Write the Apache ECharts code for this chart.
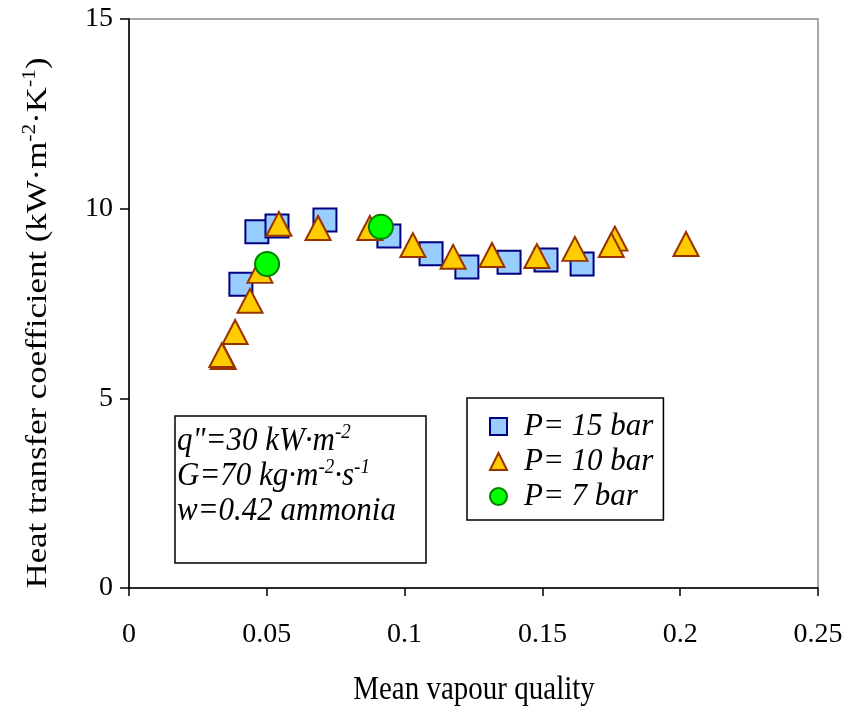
<!DOCTYPE html>
<html>
<head>
<meta charset="utf-8">
<script src="https://cdn.jsdelivr.net/npm/echarts@6/dist/echarts.min.js"></script>
<style>
html,body{margin:0;padding:0;background:#fff;}
#chart{width:849px;height:715px;}
</style>
</head>
<body>
<div id="chart"></div>
<script>
// ---- data ----
var xTickLabels = ['0', '0.05', '0.1', '0.15', '0.2', '0.25'];
var yTickLabels = ['0', '5', '10', '15'];
var seriesNames = ['P= 15 bar', 'P= 10 bar', 'P= 7 bar'];

var p15x = [0.0406, 0.0464, 0.0537, 0.0711, 0.0943, 0.1096, 0.1226, 0.1379, 0.1513, 0.1644];
var p15y = [8.01, 9.39, 9.54, 9.70, 9.28, 8.81, 8.46, 8.59, 8.65, 8.54];

var p10x = [0.0342, 0.0337, 0.0385, 0.0439, 0.0475, 0.0544, 0.0686, 0.0874, 0.1030, 0.1176, 0.1317, 0.1480, 0.1618, 0.1763, 0.1750, 0.2021];
var p10y = [6.09, 6.14, 6.75, 7.57, 8.36, 9.60, 9.49, 9.49, 9.04, 8.73, 8.78, 8.75, 8.94, 9.21, 9.04, 9.07];

var p7x = [0.0501, 0.0914];
var p7y = [8.54, 9.52];

function pairs(xs, ys) { return xs.map(function (x, i) { return [x, ys[i]]; }); }

var FONT = 'Liberation Serif';
var chart = echarts.init(document.getElementById('chart'), null, {renderer: 'canvas'});

function noteRich(size, supSize) {
  return {
    n: {fontFamily: FONT, fontStyle: 'italic', fontSize: size, lineHeight: size + 4, fill: '#000'},
    s: {fontFamily: FONT, fontStyle: 'italic', fontSize: supSize, lineHeight: size + 4, verticalAlign: 'top', fill: '#000'}
  };
}

var option = {
  backgroundColor: '#ffffff',
  animation: false,
  grid: {left: 129, right: 31, top: 19, bottom: 127, show: true, borderColor: '#8c8c8c', borderWidth: 1.5, backgroundColor: 'transparent'},
  xAxis: {
    type: 'value', min: 0, max: 0.25, interval: 0.05,
    axisLine: {show: true, onZero: false, lineStyle: {color: '#000', width: 1.5}},
    axisTick: {show: true, inside: false, length: 8, lineStyle: {color: '#000', width: 1.5}},
    splitLine: {show: false},
    axisLabel: {margin: 33, color: '#000', fontFamily: FONT, fontSize: 28,
      formatter: function (v, i) { return xTickLabels[i]; }}
  },
  yAxis: {
    type: 'value', min: 0, max: 15, interval: 5,
    axisLine: {show: true, onZero: false, lineStyle: {color: '#000', width: 1.5}},
    axisTick: {show: true, inside: false, length: 9, lineStyle: {color: '#000', width: 1.5}},
    splitLine: {show: false},
    axisLabel: {margin: 16, color: '#000', fontFamily: FONT, fontSize: 28,
      formatter: function (v, i) { return yTickLabels[i]; }}
  },
  legend: {
    orient: 'vertical', left: 467, top: 398,
    padding: [13, 10, 8, 22],
    itemWidth: 17, itemHeight: 17, itemGap: 4,
    backgroundColor: '#fff',
    borderColor: '#000', borderWidth: 1.5, borderRadius: 0,
    textStyle: {fontFamily: FONT, fontStyle: 'italic', fontSize: 31, color: '#000', lineHeight: 31, padding: [0, 0, 0, 12]},
    data: seriesNames
  },
  series: [
    {name: seriesNames[0], type: 'scatter', symbol: 'rect', symbolSize: 23, z: 2,
      itemStyle: {color: '#99CCFF', borderColor: '#000080', borderWidth: 2, opacity: 1},
      data: pairs(p15x, p15y)},
    {name: seriesNames[1], type: 'scatter', symbol: 'triangle', symbolSize: [25, 24], z: 3,
      itemStyle: {color: '#FFCC00', borderColor: '#993300', borderWidth: 2, opacity: 1},
      data: pairs(p10x, p10y)},
    {name: seriesNames[2], type: 'scatter', symbol: 'circle', symbolSize: 24, z: 4,
      itemStyle: {color: '#00FF00', borderColor: '#008000', borderWidth: 2, opacity: 1},
      data: pairs(p7x, p7y)}
  ],
  graphic: [
    {type: 'text', x: 38, y: 323, rotation: Math.PI / 2, scaleX: 1.2, scaleY: 1,
      style: {
        text: '{n|Heat transfer coefficient (kW·m}{s|-2}{n|·K}{s|-1}{n|)}',
        align: 'center', verticalAlign: 'middle', fill: '#000',
        rich: {
          n: {fontFamily: FONT, fontSize: 29, lineHeight: 33, fill: '#000'},
          s: {fontFamily: FONT, fontSize: 18, lineHeight: 33, verticalAlign: 'top', fill: '#000'}
        }
      }},
    {type: 'text', x: 474, y: 690, scaleY: 1.15,
      style: {text: 'Mean vapour quality', font: '29px "Liberation Serif"', fill: '#000', align: 'center', verticalAlign: 'middle'}},
    {type: 'rect', shape: {x: 175, y: 416, width: 251, height: 147},
      style: {fill: '#fff', stroke: '#000', lineWidth: 1.5}, z: 10},
    {type: 'text', x: 177, y: 441, z: 11, scaleY: 1.1,
      style: {text: '{n|q"=30 kW·m}{s|-2}', align: 'left', verticalAlign: 'middle', fill: '#000', rich: noteRich(31, 19)}},
    {type: 'text', x: 177, y: 476, z: 11, scaleY: 1.1,
      style: {text: '{n|G=70 kg·m}{s|-2}{n|·s}{s|-1}', align: 'left', verticalAlign: 'middle', fill: '#000', rich: noteRich(31, 19)}},
    {type: 'text', x: 177, y: 511, z: 11, scaleY: 1.1,
      style: {text: 'w=0.42 ammonia', font: 'italic 31px "Liberation Serif"', fill: '#000', align: 'left', verticalAlign: 'middle'}}
  ]
};
chart.setOption(option);
</script>
</body>
</html>
